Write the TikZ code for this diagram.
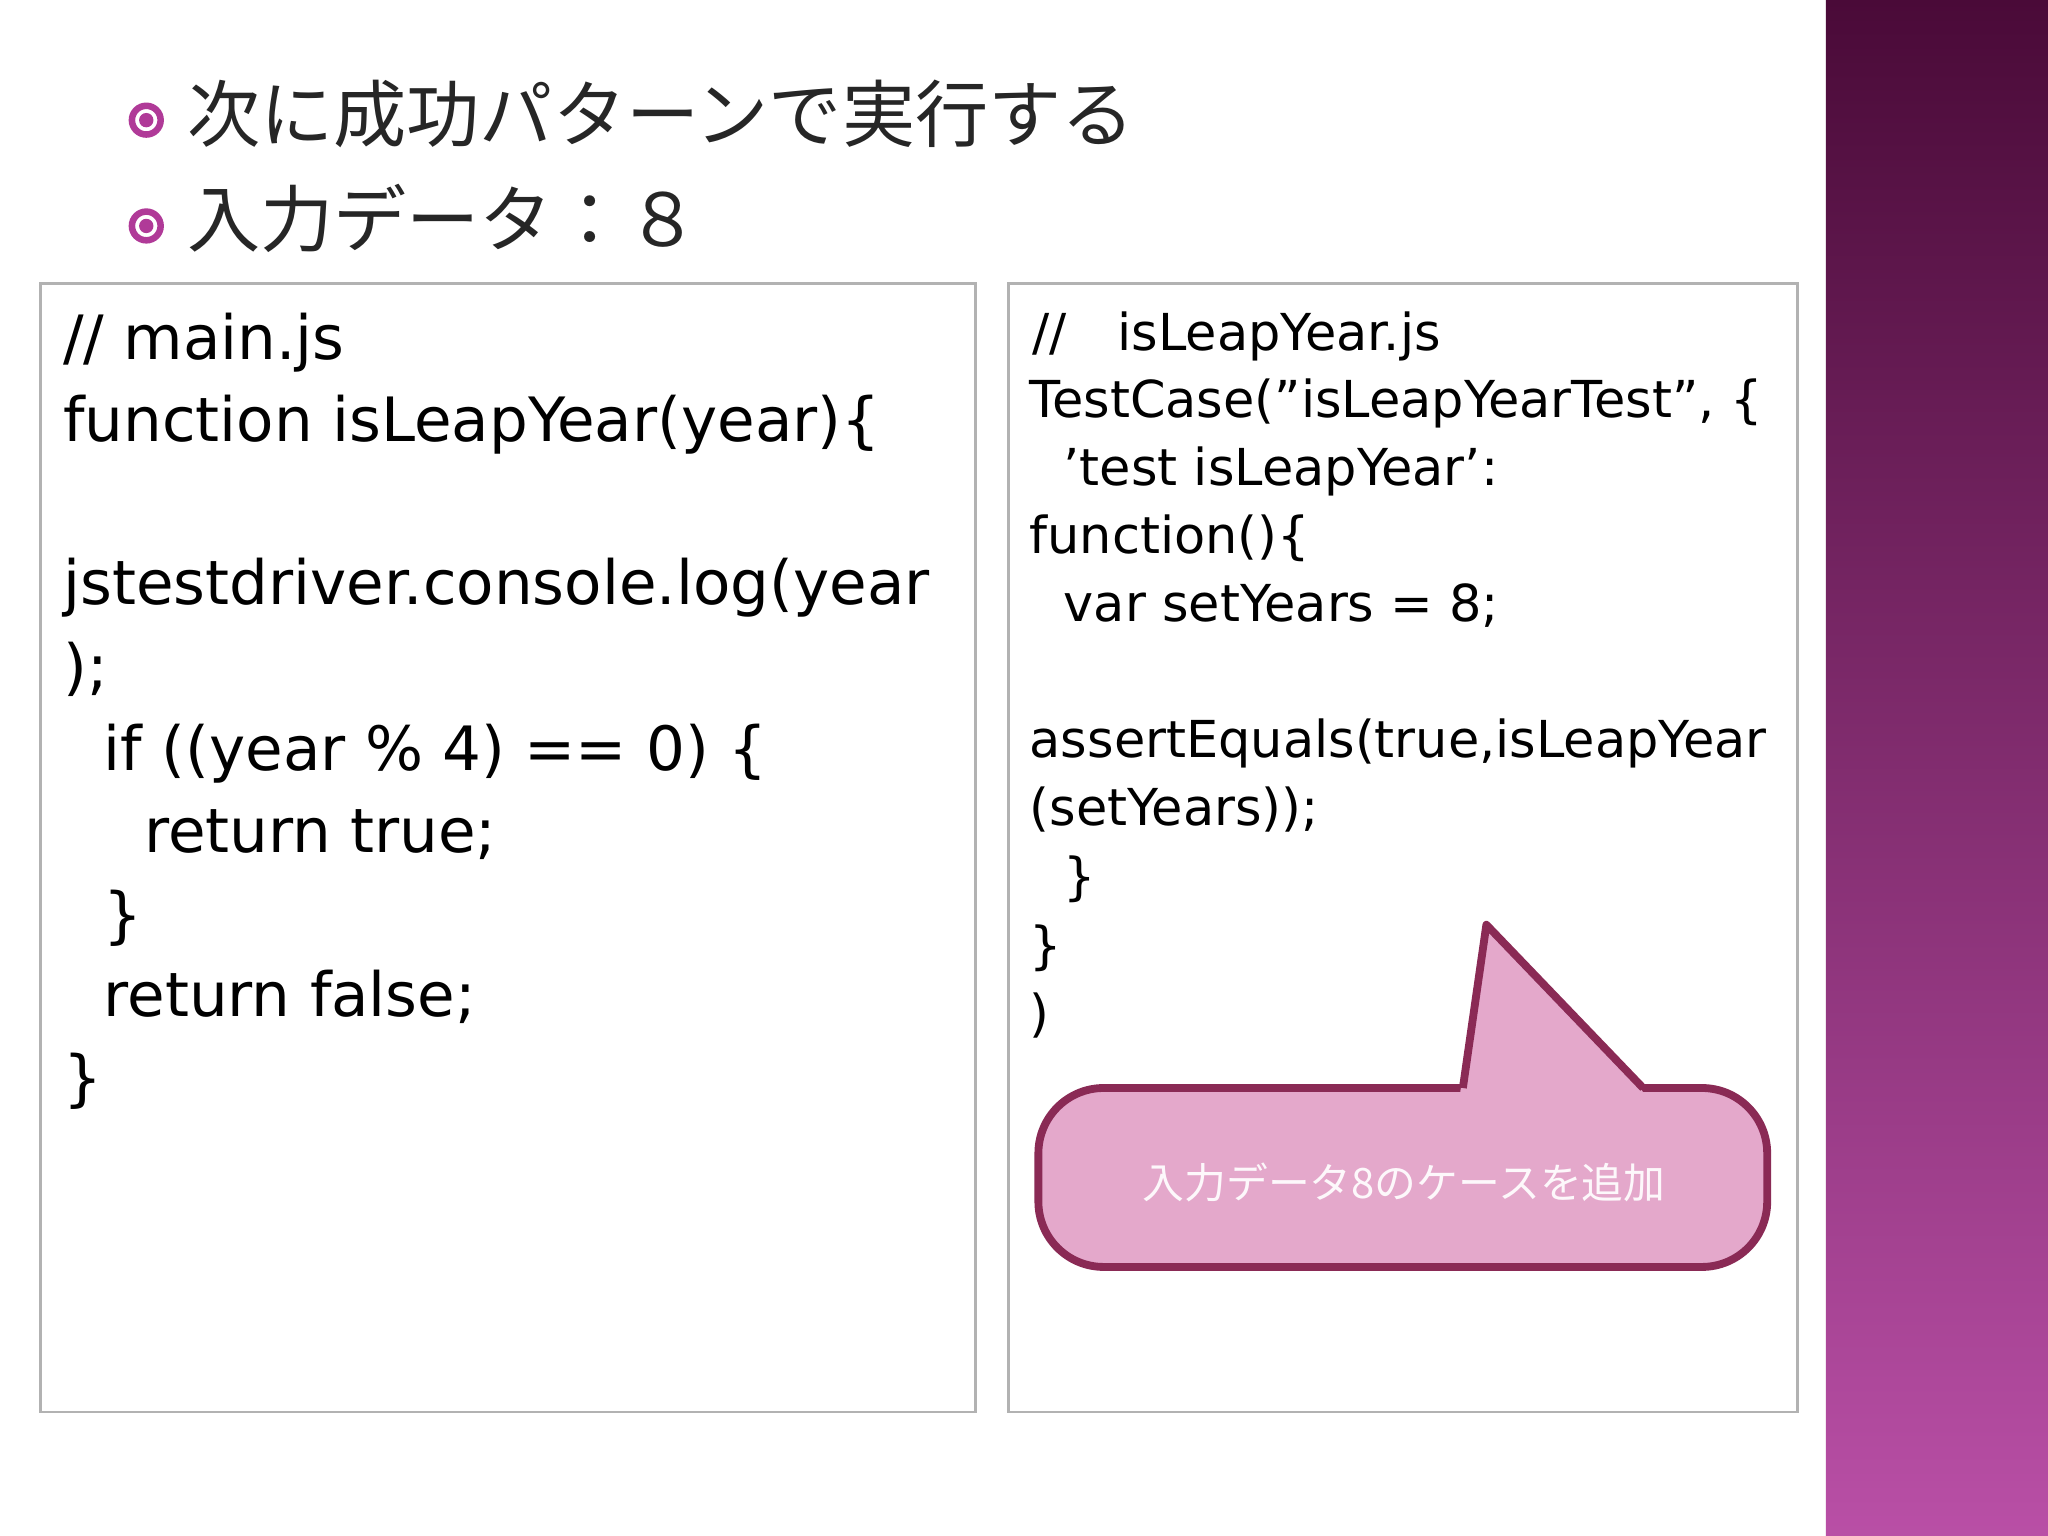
\documentclass[tikz,border=0pt]{standalone}
\usepackage{fontspec}
\setmainfont{DejaVu Sans}
\newfontfamily\cjk{Noto Sans CJK JP}[Scale=1]
\begin{document}
\begin{tikzpicture}[x=0.5pt,y=-0.5pt,
  codeL/.style={anchor=base west,inner sep=0pt,font=\fontsize{23.4}{26}\selectfont},
  codeR/.style={anchor=base west,inner sep=0pt,font=\fontsize{19.5}{23}\selectfont},
  bul/.style={anchor=base west,inner sep=0pt,font=\cjk\fontsize{28}{32}\selectfont,text=black!85},
  box/.style={draw=black!30,line width=1pt,fill=white}]
\definecolor{bandtop}{HTML}{4A0A38}
\definecolor{bandbot}{HTML}{B94FA6}
\definecolor{calfill}{HTML}{E4A8CB}
\definecolor{caldraw}{HTML}{8A2A55}
\definecolor{bulc}{HTML}{B03A98}
\fill[white] (0,0) rectangle (1568,1176);
\useasboundingbox (0,0) rectangle (1568,1176);
\shade[top color=bandtop,bottom color=bandbot] (1398,0) rectangle (1568,1176);
% bullets
\foreach \y in {92,173}{
  \draw[bulc,line width=2.5pt] (112,\y) circle (11);
  \fill[bulc] (112,\y) circle (5.5);
}
\node[bul] (t1) at (143,108) {次に成功パターンで実行する};
\node[bul] (t2) at (143,189) {入力データ：８};
% boxes
\draw[box] (31,217) rectangle (747,1081);
\draw[box] (772,217) rectangle (1376,1081);
\node[codeL] (l1) at (48,275) {// main.js};
\node[codeL] (l2) at (48,338) {function isLeapYear(year)\{};
\node[codeL] (l3) at (48,463) {jstestdriver.console.log(year};
\node[codeL] (l4) at (48,527) {);};
\node[codeL] (l5) at (79,590) {if ((year \% 4) == 0) \{};
\node[codeL] (l6) at (110,653) {return true;};
\node[codeL] (l7) at (79,717) {\}};
\node[codeL] (l8) at (79,778) {return false;};
\node[codeL] (l9) at (48,842) {\}};
\node[codeR] (r1) at (790,268) {//\quad isLeapYear.js};
\node[codeR] (r2) at (788,320) {TestCase(\symbol{34}isLeapYearTest\symbol{34}, \{};
\node[codeR] (r3) at (814,372) {\symbol{39}test isLeapYear\symbol{39}:};
\node[codeR] (r4) at (788,424) {function()\{};
\node[codeR] (r5) at (814,476) {var setYears = 8;};
\node[codeR] (r6) at (788,580) {assertEquals(true,isLeapYear};
\node[codeR] (r7) at (788,632) {(setYears));};
\node[codeR] (r8) at (814,685) {\}};
\node[codeR] (r9) at (788,738) {\}};
\node[codeR] (r10) at (788,790) {)};
% callout
\draw[fill=calfill,draw=caldraw,line width=3pt,rounded corners=25] (795,833) rectangle (1353,970);
\fill[calfill] (1118,836) -- (1138,708) -- (1258,836) -- cycle;
\draw[caldraw,line width=3pt,line join=round] (1120,833) -- (1138,708) -- (1258,833);
\node[font=\cjk\fontsize{16}{20}\selectfont,text=white!92!calfill] (cl) at (1075,905) {入力データ8のケースを追加};
\end{tikzpicture}
\end{document}
